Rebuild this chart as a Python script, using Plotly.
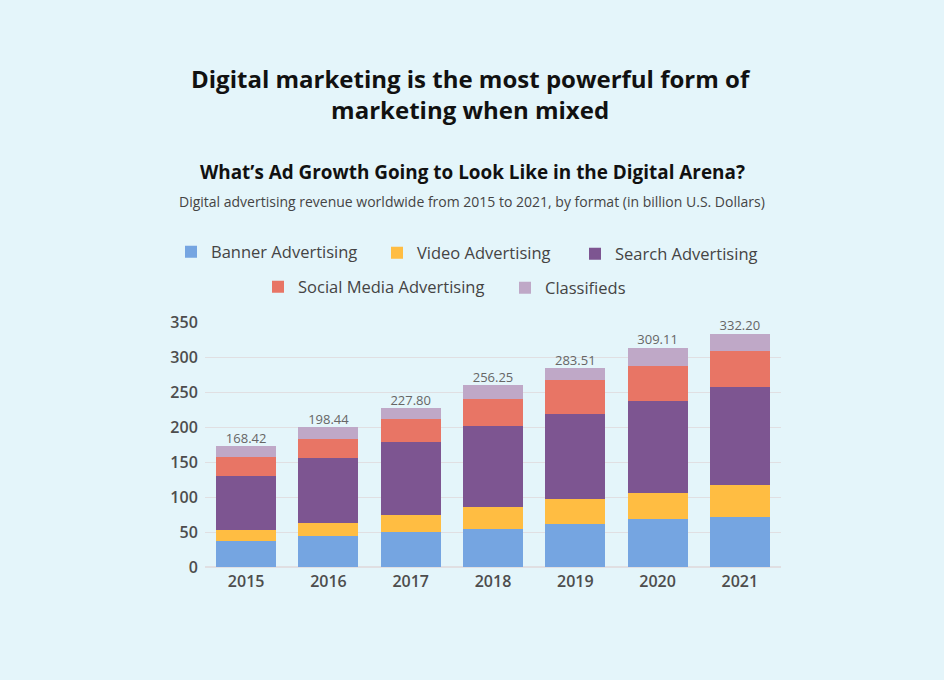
import plotly.graph_objects as go

years = ["2015", "2016", "2017", "2018", "2019", "2020", "2021"]
banner = [36.8, 43.9, 49.7, 54.0, 61.1, 68.3, 71.2]
video = [15.7, 18.7, 24.3, 31.5, 35.9, 37.2, 45.8]
search = [77.4, 93.1, 104.6, 116.0, 121.7, 131.9, 140.4]
social = [27.2, 27.2, 33.0, 38.7, 48.8, 50.1, 51.6]
classifieds = [15.8, 17.2, 15.7, 20.1, 17.1, 25.8, 24.4]
totals = ["168.42", "198.44", "227.80", "256.25", "283.51", "309.11", "332.20"]

series = [
    ("Banner Advertising", banner, "#75a5e1"),
    ("Video Advertising", video, "#ffbd42"),
    ("Search Advertising", search, "#7d5591"),
    ("Social Media Advertising", social, "#e87565"),
    ("Classifieds", classifieds, "#bfa8c7"),
]
# legend symbol centres (pixels) in the 944x680 picture
legend_pos = [(191, 252), (397, 253), (595, 254), (278, 287), (525, 288)]

FONT = "Open Sans"
W, H = 944, 680
PLOT_TOP, PLOT_BOTTOM = 322, 567
PLOT_LEFT, PLOT_RIGHT = 205, 781


def ypaper(px):
    return (PLOT_BOTTOM - px) / (PLOT_BOTTOM - PLOT_TOP)


def xpaper(px):
    return (px - PLOT_LEFT) / (PLOT_RIGHT - PLOT_LEFT)


fig = go.Figure()
legends = {}
for i, ((name, vals, color), (lx, ly)) in enumerate(zip(series, legend_pos)):
    key = "legend" if i == 0 else f"legend{i + 1}"
    fig.add_trace(go.Bar(x=years, y=vals, name=name, marker_color=color,
                         marker_line_width=0, legend=key, hoverinfo="y+name"))
    legends[key] = dict(orientation="h", xref="container", yref="container",
                        x=(lx - 20) / W, y=1 - ly / H, xanchor="left", yanchor="middle",
                        font=dict(size=16.5, color="#444444", family=FONT),
                        bgcolor="rgba(0,0,0,0)", borderwidth=0)

stack_tops = [sum(v) for v in zip(banner, video, search, social, classifieds)]
fig.add_trace(go.Scatter(x=years, y=stack_tops, mode="text", text=totals,
                         textposition="top center", showlegend=False,
                         textfont=dict(family=FONT, size=13, color="#666666"),
                         hoverinfo="skip", cliponaxis=False))

fig.update_layout(
    barmode="stack",
    bargap=0.27,
    width=W, height=H,
    paper_bgcolor="#e4f5fa", plot_bgcolor="#e4f5fa",
    margin=dict(l=PLOT_LEFT, r=W - PLOT_RIGHT, t=PLOT_TOP, b=H - PLOT_BOTTOM,
                autoexpand=False),
    font=dict(family=FONT, color="#555555"),
    xaxis=dict(showgrid=False, showline=False, ticks="", ticklabelstandoff=3,
               tickfont=dict(size=16, color="#4d4d4d", family=FONT, weight=600)),
    yaxis=dict(range=[0, 350], dtick=50, gridcolor="#e0dfe2", gridwidth=1,
               zeroline=True, zerolinecolor="#e0dfe2", showline=False,
               ticks="outside", ticklen=3, tickcolor="rgba(0,0,0,0)",
               tickfont=dict(size=16, color="#4d4d4d", family=FONT, weight=600)),
    annotations=[
        dict(text="<b>Digital marketing is the most powerful form of<br>marketing when mixed</b>",
             xref="paper", yref="paper", x=xpaper(471), y=ypaper(94), xanchor="center",
             yanchor="middle", showarrow=False,
             font=dict(size=24, color="#111111", family=FONT)),
        dict(text="<b>What’s Ad Growth Going to Look Like in the Digital Arena?</b>",
             xref="paper", yref="paper", x=xpaper(472), y=ypaper(172), xanchor="center",
             yanchor="middle", showarrow=False,
             font=dict(size=18.9, color="#111111", family=FONT)),
        dict(text="Digital advertising revenue worldwide from 2015 to 2021, by format (in billion U.S. Dollars)",
             xref="paper", yref="paper", x=xpaper(472), y=ypaper(202), xanchor="center",
             yanchor="middle", showarrow=False,
             font=dict(size=14, color="#444444", family=FONT)),
    ],
    **legends,
)

fig.write_html("out.html", config={"displayModeBar": False},
               post_script="document.body.style.margin='0';document.body.style.overflow='hidden';")
